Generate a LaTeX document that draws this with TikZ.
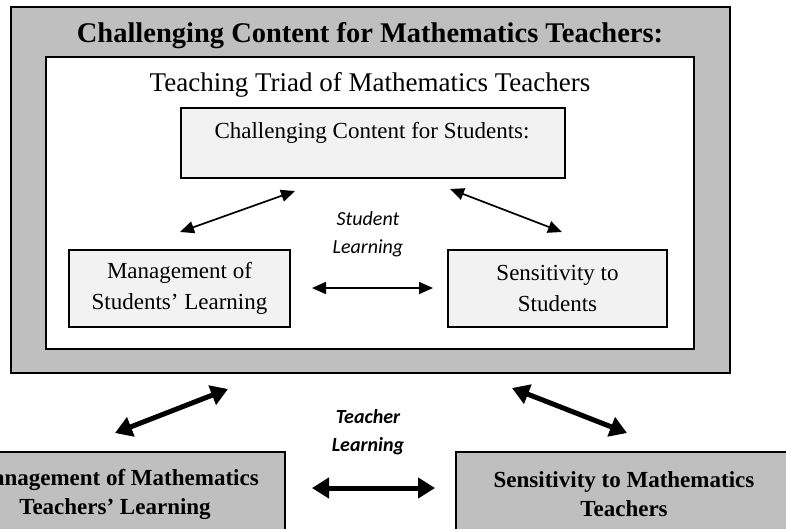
\documentclass[tikz,border=0pt]{standalone}
\usepackage{fontspec}
\setmainfont{Liberation Serif}
\newfontfamily\calib{Carlito}
\usetikzlibrary{arrows.meta}
\tikzset{ frame/.style = { rectangle % grey frame
        , draw
        , line width = 2pt
        , fill = gray!50
        , inner sep = 0pt
        }
        , panel/.style = { rectangle % white panel
        , draw
        , line width = 1.5pt
        , fill = white
        , inner sep = 0pt
        }
        , cell/.style = { rectangle % light box
        , draw
        , line width = 1.5pt
        , fill = gray!10
        , inner sep = 0pt
        }
        }

\begin{document}
\begin{tikzpicture}[x=1pt, y=-1pt,
        title_style/.style={font=\fontsize{28.5}{30}\selectfont\bfseries},
        triad_style/.style={font=\fontsize{27}{30}\selectfont},
        cell_text_style/.style={align=center, font=\fontsize{23}{31}\selectfont},
        teacher_text_style/.style={align=center, font=\fontsize{23}{29}\selectfont\bfseries},
        learn_style/.style={align=center, font=\calib\itshape\fontsize{20}{28}\selectfont},
        teach_learn_style/.style={align=center, font=\calib\itshape\bfseries\fontsize{20}{28}\selectfont},
        student_edge_style/.style={draw=black, line width=1.7pt, {Triangle[length=14pt,width=12pt]}-{Triangle[length=14pt,width=12pt]}},
        teacher_edge_style/.style={draw=black, line width=5pt, {Triangle[length=17pt,width=20pt]}-{Triangle[length=17pt,width=20pt]}}]
        \useasboundingbox (0,0) rectangle (786,528);

        \node [frame, minimum width=719pt, minimum height=366pt] (outer) at (370.5,190) {};
        \node [title_style] (title) at (370,36) {Challenging Content for Mathematics Teachers:};
        \node [panel, minimum width=648pt, minimum height=292pt] (inner) at (370,203) {};
        \node [triad_style] (triad) at (370,85) {Teaching Triad of Mathematics Teachers};

        \node [cell, minimum width=384pt, minimum height=70pt] (content) at (373,143) {};
        \node [cell_text_style] (content_text) at (372,133) {Challenging Content for Students:};
        \node [cell, cell_text_style, minimum width=221pt, minimum height=77pt] (manage) at (179.5,288.5) {Management of\\Students’ Learning};
        \node [cell, cell_text_style, minimum width=219pt, minimum height=77pt] (sense) at (557.5,288.5) {Sensitivity to\\Students};
        \node [learn_style] (student_learning) at (368,234) {Student\\Learning};

        \node [frame, minimum width=340pt, minimum height=108pt] (teach_manage) at (115,506) {};
        \node [teacher_text_style] (teach_manage_text) at (115,494) {Management of Mathematics\\Teachers’ Learning};
        \node [frame, minimum width=336pt, minimum height=108pt] (teach_sense) at (624,506) {};
        \node [teacher_text_style] (teach_sense_text) at (624,494) {Sensitivity to Mathematics\\Teachers};
        \node [teach_learn_style] (teacher_learning) at (368,432) {Teacher\\Learning};

        \coordinate (s1) at (180,232);
        \coordinate (s2) at (295,191);
        \coordinate (s3) at (450,189);
        \coordinate (s4) at (562,232);
        \coordinate (s5) at (312,288);
        \coordinate (s6) at (433,288);
        \coordinate (t1) at (115,433);
        \coordinate (t2) at (228,389);
        \coordinate (t3) at (512,388);
        \coordinate (t4) at (627,433);
        \coordinate (t5) at (312,488);
        \coordinate (t6) at (435,488);

        \draw [student_edge_style] (s1) -- (s2);
        \draw [student_edge_style] (s3) -- (s4);
        \draw [student_edge_style] (s5) -- (s6);
        \draw [teacher_edge_style] (t1) -- (t2);
        \draw [teacher_edge_style] (t3) -- (t4);
        \draw [teacher_edge_style] (t5) -- (t6);
\end{tikzpicture}
\end{document}
